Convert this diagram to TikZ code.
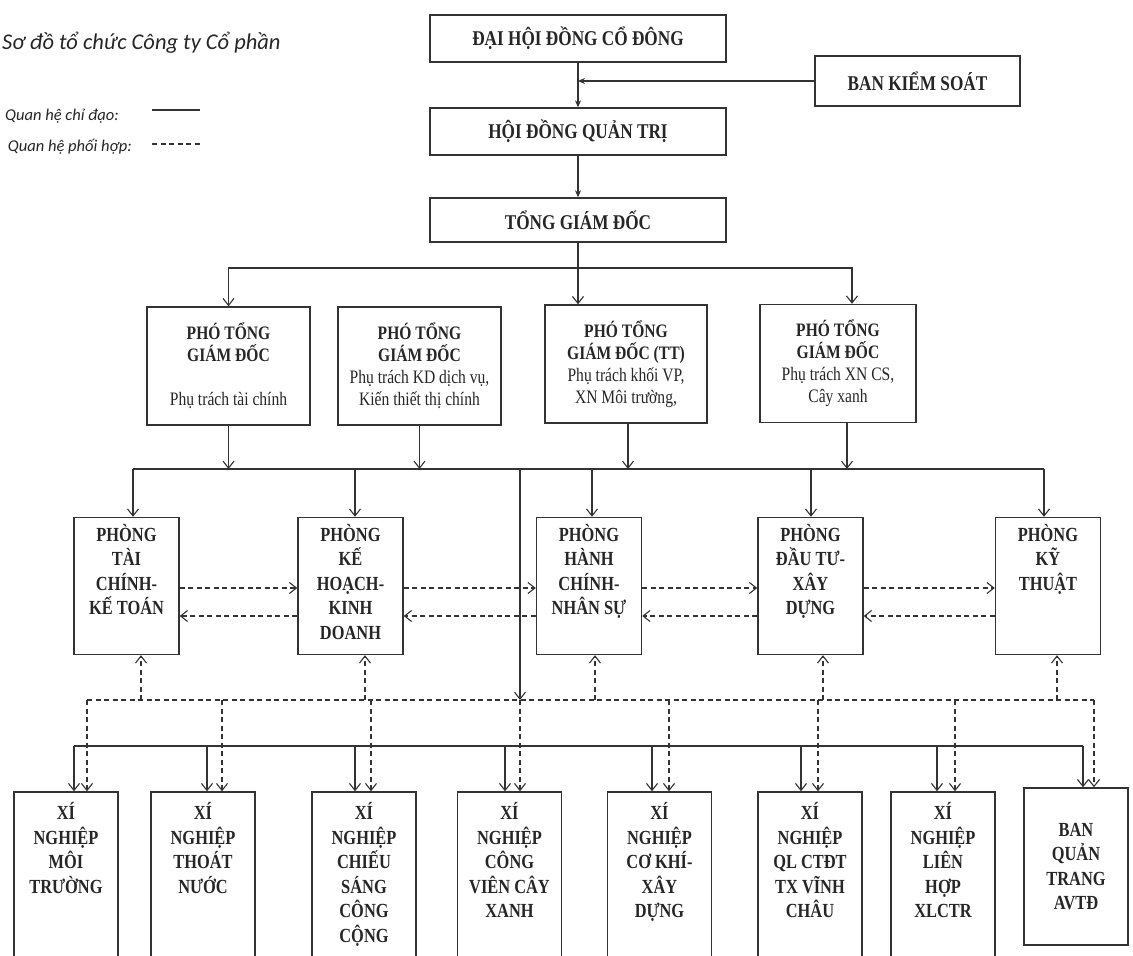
\documentclass[tikz,border=0pt]{standalone}
\usepackage{fontspec}
\setmainfont{Liberation Serif}
\newfontfamily\boxfont{Liberation Serif}[FakeStretch=0.82]
\newfontfamily\notefont{Carlito}
\usetikzlibrary{arrows.meta,positioning}

\begin{document}
\begin{tikzpicture}[x=1pt,y=-1pt,
  box/.style={draw=black!80,line width=1.4pt,inner sep=3pt,align=center,text=black!85,
    font=\boxfont\bfseries\fontsize{21}{24}\selectfont},
  pho/.style={box,minimum width=163pt,minimum height=118pt,
    font=\boxfont\bfseries\fontsize{19}{22}\selectfont},
  phong/.style={box,minimum width=105pt,minimum height=137pt},
  xn/.style={box,minimum width=104pt,minimum height=180pt,
    font=\boxfont\bfseries\fontsize{20}{24.5}\selectfont},
  lbl/.style={inner sep=0pt,align=center,text=black!85,
    font=\boxfont\bfseries\fontsize{20}{24.5}\selectfont},
  conn/.style={draw=black!80,line width=1.1pt},
  arr/.style={conn,-{Straight Barb[length=7pt,width=11pt]}},
  farr/.style={conn,-{Stealth[length=7pt,width=6pt]}},
  darr/.style={arr,dash pattern=on 5pt off 3.5pt},
  dline/.style={conn,dash pattern=on 5pt off 3.5pt},
  note/.style={inner sep=0pt,text=black!85,font=\notefont\itshape\fontsize{22.5}{26}\selectfont},
  legend/.style={note,font=\notefont\itshape\fontsize{16.5}{20}\selectfont,anchor=base east}]
\useasboundingbox (0,0) rectangle (1133,956);
\clip (0,0) rectangle (1133,956);
% 表題・凡例
\node[note,anchor=base west] (title) at (2,49) {Sơ đồ tổ chức Công ty Cổ phần};
\node[legend] (leg1) at (119,120) {Quan hệ chỉ đạo:};
\node[legend] (leg2) at (132,151) {Quan hệ phối hợp:};
\draw[conn] ([xshift=33pt,yshift=10pt]leg1.base east) -- ++(48,0);
\draw[dline] ([xshift=20pt,yshift=7pt]leg2.base east) -- ++(48,0);
% 上部
\node[box,minimum width=296pt,minimum height=47pt] (dhcd) at (578,38.5) {ĐẠI HỘI ĐỒNG CỔ ĐÔNG};
\node[box,minimum width=205pt,minimum height=50pt] (bks) at (917.5,81) {BAN KIỂM SOÁT};
\node[box,minimum width=296pt,minimum height=47pt] (hdqt) at (578,131.5) {HỘI ĐỒNG QUẢN TRỊ};
\node[box,minimum width=296pt,minimum height=44pt] (tgd) at (578,220) {TỔNG GIÁM ĐỐC};
% 副総
\node[pho] (pho1) at (228.5,366) {PHÓ TỔNG\\GIÁM ĐỐC\\~\\{\mdseries Phụ trách tài chính}};
\node[pho] (pho2) at (419.5,366) {PHÓ TỔNG\\GIÁM ĐỐC\\{\mdseries Phụ trách KD dịch vụ,}\\{\mdseries Kiến thiết thị chính}};
\node[pho,minimum width=162pt] (pho3) at (626,364) {PHÓ TỔNG\\GIÁM ĐỐC (TT)\\{\mdseries Phụ trách khối VP,}\\{\mdseries XN Môi trường,}};
\node[pho,minimum width=156pt] (pho4) at (838,363.5) {PHÓ TỔNG\\GIÁM ĐỐC\\{\mdseries Phụ trách XN CS,}\\{\mdseries Cây xanh}};
% 部署
\foreach \n/\x/\t in {p1/126.5/{PHÒNG\\TÀI\\CHÍNH-\\KẾ TOÁN},
    p2/350.5/{PHÒNG\\KẾ\\HOẠCH-\\KINH\\DOANH},
    p3/589/{PHÒNG\\HÀNH\\CHÍNH-\\NHÂN SỰ},
    p4/810.5/{PHÒNG\\ĐẦU TƯ-\\XÂY\\DỰNG},
    p5/1048/{PHÒNG\\KỸ\\THUẬT}} {
  \node[phong] (\n) at (\x,586) {};
  \node[lbl,below=7pt of \n.north] (\n t) {\t};
}
% 企業
\foreach \n/\x/\t in {x1/66/{XÍ\\NGHIỆP\\MÔI\\TRƯỜNG},
    x2/203/{XÍ\\NGHIỆP\\THOÁT\\NƯỚC},
    x3/364/{XÍ\\NGHIỆP\\CHIẾU\\SÁNG\\CÔNG\\CỘNG},
    x4/509.5/{XÍ\\NGHIỆP\\CÔNG\\VIÊN CÂY\\XANH},
    x5/659.5/{XÍ\\NGHIỆP\\CƠ KHÍ-\\XÂY\\DỰNG},
    x6/810/{XÍ\\NGHIỆP\\QL CTĐT\\TX VĨNH\\CHÂU},
    x7/943/{XÍ\\NGHIỆP\\LIÊN\\HỢP\\XLCTR}} {
  \node[xn] (\n) at (\x,882) {};
  \node[lbl,below=11pt of \n.north] (\n t) {\t};
}
\node[xn,minimum height=157pt] (x8) at (1076,866.5) {BAN\\QUẢN\\TRANG\\AVTĐ};
% 指導線
\coordinate (busA) at (0,268);
\coordinate (busB) at (0,469);
\coordinate (busC) at (0,700);
\coordinate (busD) at (0,746);
\draw[farr] (dhcd) -- (hdqt);
\draw[farr] (bks.west) -- (bks.west -| dhcd.south);
\draw[farr] (hdqt) -- (tgd);
\draw[arr] (tgd.south) -- (tgd.south |- pho3.north);
\draw[arr] (tgd.south |- busA) -| (pho1.north);
\draw[arr] (tgd.south |- busA) -| ([xshift=14pt]pho4.north);
\foreach \n/\s in {pho1/0,pho2/0,pho3/2,pho4/9}
  \draw[arr] ([xshift=\s pt]\n.south) -- ([xshift=\s pt]\n.south |- busB);
\draw[conn] ([xshift=6.5pt]p1.north |- busB) -- ([xshift=-4pt]p5.north |- busB);
\foreach \n/\s in {p1/6.5,p2/4.5,p3/3,p4/0.5,p5/-4}
  \draw[arr] ([xshift=\s pt]\n.north |- busB) -- ([xshift=\s pt]\n.north);
\draw[arr] ([xshift=10.5pt]x4.north |- busB) -- ([xshift=10.5pt]x4.north |- busC);
\draw[conn] ([xshift=8pt]x1.north |- busD) -- ([xshift=7pt]x8.north |- busD);
% 協力線
\coordinate (up) at (0,588);
\coordinate (dn) at (0,616);
\foreach \a/\b in {p1/p2,p2/p3,p3/p4,p4/p5} {
  \draw[darr] (\a.east |- up) -- (\b.west |- up);
  \draw[darr] (\b.west |- dn) -- (\a.east |- dn);
}
\foreach \n/\s in {p1/14.5,p2/14.5,p3/6,p4/12.5,p5/9}
  \draw[darr] ([xshift=\s pt]\n.south |- busC) -- ([xshift=\s pt]\n.south);
\draw[dline] ([xshift=21pt]x1.north |- busC) -- ([xshift=18pt]x8.north |- busC);
\foreach \n/\a/\b in {x1/8/21,x2/4/19,x3/-9/7,x4/-4.5/10.5,x5/-7.5/9.5,x6/-9/8,x7/-6/12,x8/7/18} {
  \draw[arr] ([xshift=\a pt]\n.north |- busD) -- ([xshift=\a pt]\n.north);
  \draw[darr] ([xshift=\b pt]\n.north |- busC) -- ([xshift=\b pt]\n.north);
}
\end{tikzpicture}
\end{document}
